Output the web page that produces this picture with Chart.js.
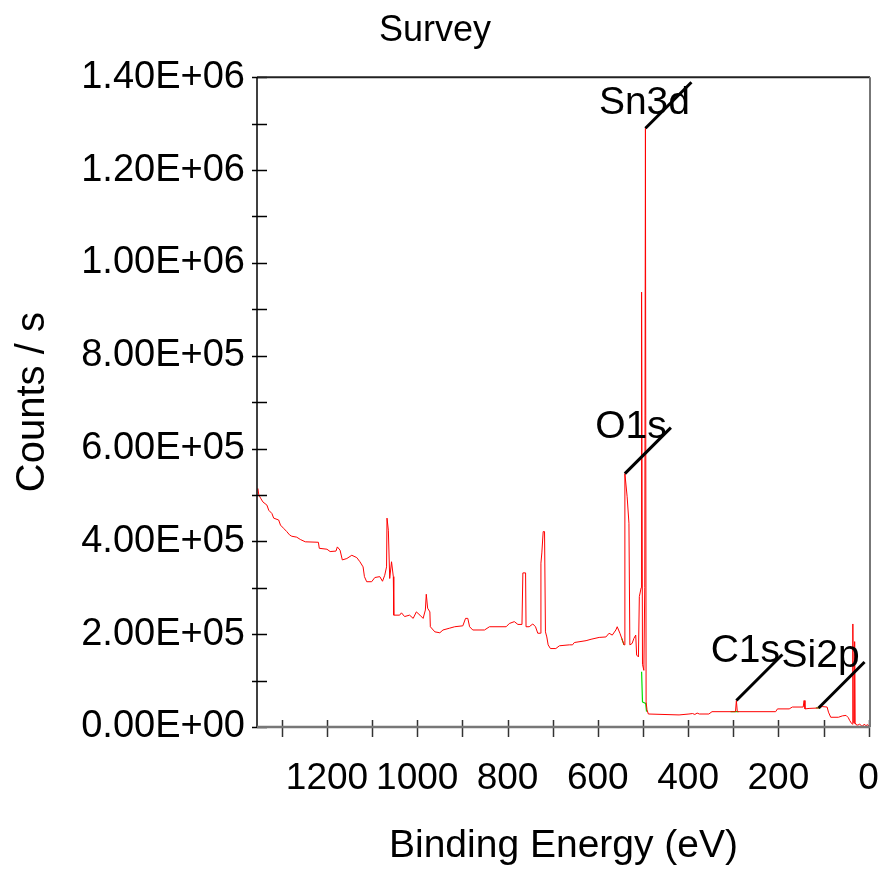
<!DOCTYPE html>
<html lang="en">
<head>
<meta charset="UTF-8">
<title>Survey</title>
<script src="https://cdn.jsdelivr.net/npm/chart.js"></script>
<style>
  html, body { margin: 0; padding: 0; background: #fff; }
</style>
</head>
<body>
<canvas id="myChart" width="881" height="870"></canvas>
<script>
// binding energy (eV) and counts/s
const energy = [1353, 1351, 1347, 1342, 1333, 1329, 1322, 1318, 1307, 1303, 1296, 1289, 1283, 1278, 1267, 1259, 1248,
  1219, 1217, 1200, 1193, 1180, 1177, 1171, 1166, 1156, 1145, 1134, 1127, 1120, 1117, 1112, 1101, 1094, 1083, 1077,
  1072, 1068, 1067, 1064, 1061, 1057, 1053, 1052, 1039, 1035, 1028, 1017, 1009, 1002, 994, 987, 982, 980, 977, 972,
  971, 961, 950, 943, 928, 917, 899, 893, 888, 884, 877, 851, 840, 803, 796, 785, 777, 768, 766, 760, 759, 752, 744,
  738, 733, 727, 726, 724, 721, 718, 716, 713, 710, 705, 693, 685, 663, 656, 652, 626, 615, 597, 582, 575, 568, 560,
  557, 551, 547, 542, 541, 540, 535, 531, 529, 524, 520, 516, 514, 510, 508, 504, 503, 501, 498, 496, 494.5, 493, 491,
  488, 420, 398, 390, 385, 380, 375, 354, 347, 295, 293, 291, 206, 202, 176, 169, 145, 143, 141, 132, 111, 103, 92,
  89, 84, 67, 58, 50, 45, 42, 38, 36, 35, 34, 32, 31, 30, 28, 24, 20, 16, 13, 10, 6, 2, 0];
const counts = [514000, 500000, 493000, 485000, 478000, 467000, 460000, 450000, 446000, 435000, 428000, 421000, 414000,
  411000, 409000, 404000, 399000, 398000, 385000, 383000, 378000, 379000, 388000, 381000, 360000, 363000, 370000,
  365000, 356000, 345000, 324000, 313000, 313000, 322000, 324000, 314000, 327000, 345000, 450000, 424000, 320000,
  356000, 324000, 241000, 241000, 246000, 238000, 241000, 234000, 248000, 241000, 234000, 252000, 286000, 256000,
  248000, 216000, 205000, 203000, 209000, 213000, 216000, 218000, 234000, 234000, 216000, 209000, 209000, 216000,
  216000, 223000, 227000, 221000, 221000, 332000, 332000, 216000, 216000, 222000, 216000, 202000, 202000, 353000,
  375000, 421000, 421000, 205000, 194000, 177000, 169000, 169000, 175000, 177000, 177000, 182000, 186000, 189000,
  193000, 194000, 202000, 198000, 209000, 216000, 202000, 191000, 177000, 177000, 546000, 496000, 439000, 177000,
  180000, 191000, 198000, 155000, 151000, 281000, 300000, 937000, 135000, 122000, 300000, 1290000, 54000, 37000,
  28000, 26000, 28000, 29000, 27000, 30000, 28000, 28000, 33000, 33000, 57000, 33000, 33000, 39000, 39000, 43000,
  43000, 57000, 39000, 40000, 41000, 44000, 43000, 32000, 21000, 21000, 24000, 25000, 20000, 14000, 8000, 6000,
  222000, 10000, 8000, 184000, 10000, 5000, 4000, 6000, 3000, 2000, 6000, 3000, 5000, 2000];

// green background pieces under the fitted peaks (null breaks the line)
const bgEnergy = [547, 542, null, 503, 501, 494, 492, null, 306, 288, null, 117, 107];
const bgCounts = [191000, 177000, null, 119000, 54000, 51000, 33000, null, 33000, 33000, null, 41000, 41000];

// peak labels
const peakNames = ['Sn3d', 'O1s', 'C1s', 'Si2p'];
const peakEnergy = [494.5, 540, 293, 111];
const peakCounts = [1290000, 546000, 57000, 41000];

// labelled ticks
const xLabels = [1200, 1000, 800, 600, 400, 200, 0];
const yLabels = [0, 200000, 400000, 600000, 800000, 1000000, 1200000, 1400000];

const FONT = 'Arial, "Liberation Sans", sans-serif';

function sci(v) {
  if (v === 0) return '0.00E+00';
  const e = Math.floor(Math.log10(v) + 1e-9);
  const m = v / Math.pow(10, e);
  return m.toFixed(2) + 'E+' + String(e).padStart(2, '0');
}

function toPoints(xs, ys) {
  return xs.map((x, i) => (x === null ? { x: NaN, y: null } : { x: x, y: ys[i] }));
}

// frame and crossing tick marks
const framePlugin = {
  id: 'frame',
  afterDraw(chart) {
    const { ctx, chartArea: a, scales } = chart;
    ctx.save();
    ctx.lineCap = 'butt';
    // ticks
    ctx.strokeStyle = '#333';
    ctx.lineWidth = 1.5;
    for (let v = 0; v <= 1300; v += 100) {
      const x = Math.round(scales.x.getPixelForValue(v)) + 0.5;
      ctx.beginPath(); ctx.moveTo(x, a.bottom - 7); ctx.lineTo(x, a.bottom + 10); ctx.stroke();
    }
    ctx.strokeStyle = '#000';
    for (let v = 0; v <= 1400000; v += 100000) {
      const y = Math.round(scales.y.getPixelForValue(v)) + 0.5;
      ctx.beginPath(); ctx.moveTo(a.left - 5, y); ctx.lineTo(a.left + 10, y); ctx.stroke();
    }
    // borders
    ctx.lineWidth = 2;
    ctx.strokeStyle = '#222';
    ctx.beginPath(); ctx.moveTo(a.left, a.top); ctx.lineTo(a.right, a.top); ctx.stroke();
    ctx.strokeStyle = '#000';
    ctx.lineWidth = 1.5;
    ctx.beginPath(); ctx.moveTo(a.left, a.top); ctx.lineTo(a.left, a.bottom); ctx.stroke();
    ctx.strokeStyle = '#777';
    ctx.lineWidth = 2.5;
    ctx.beginPath(); ctx.moveTo(a.left, a.bottom); ctx.lineTo(a.right, a.bottom); ctx.stroke();
    ctx.lineWidth = 2;
    ctx.beginPath(); ctx.moveTo(a.right, a.top); ctx.lineTo(a.right, a.bottom); ctx.stroke();
    ctx.restore();
  }
};

// peak names with leader lines
const labelOffsets = { Sn3d: [-1, -14], O1s: [6, -36], C1s: [9, -39], Si2p: [2, -41] };
const peakPlugin = {
  id: 'peaks',
  afterDatasetsDraw(chart) {
    const { ctx, scales } = chart;
    ctx.save();
    ctx.strokeStyle = '#000';
    ctx.lineWidth = 3;
    ctx.fillStyle = '#000';
    ctx.font = '39px ' + FONT;
    ctx.textAlign = 'center';
    ctx.textBaseline = 'alphabetic';
    peakNames.forEach((name, i) => {
      const px = scales.x.getPixelForValue(peakEnergy[i]);
      const py = scales.y.getPixelForValue(peakCounts[i]);
      const off = labelOffsets[name];
      ctx.fillText(name, px + off[0], py + off[1]);
      ctx.beginPath(); ctx.moveTo(px, py); ctx.lineTo(px + 46, py - 46); ctx.stroke();
    });
    ctx.restore();
  }
};

function noPad(s) {
  s.paddingLeft = 0; s.paddingRight = 0; s.paddingTop = 0; s.paddingBottom = 0;
}

const ctx = document.getElementById('myChart').getContext('2d');
const myChart = new Chart(ctx, {
  type: 'line',
  data: {
    datasets: [
      {
        label: 'Survey',
        data: toPoints(energy, counts),
        borderColor: '#ff0000',
        borderWidth: 1,
        pointRadius: 0,
        tension: 0,
        fill: false
      },
      {
        label: 'Background',
        data: toPoints(bgEnergy, bgCounts),
        borderColor: '#00e000',
        borderWidth: 1.2,
        pointRadius: 0,
        tension: 0,
        spanGaps: false,
        fill: false
      }
    ]
  },
  options: {
    responsive: false,
    animation: false,
    devicePixelRatio: 1,
    layout: { padding: { left: 0, right: 11, top: 0, bottom: 0 } },
    plugins: {
      legend: { display: false },
      tooltip: { enabled: false },
      title: {
        display: true,
        text: 'Survey',
        color: '#000',
        font: { family: FONT, size: 36, weight: 'normal' },
        padding: { top: 9, bottom: 25 }
      }
    },
    scales: {
      x: {
        type: 'linear',
        reverse: true,
        min: -3,
        max: 1355,
        grid: { display: false, drawTicks: false },
        border: { display: false },
        ticks: {
          stepSize: 100,
          includeBounds: false,
          autoSkip: false,
          maxRotation: 0,
          color: '#000',
          padding: 30,
          font: { family: FONT, size: 37 },
          callback: v => (xLabels.includes(Math.round(v)) ? String(Math.round(v)) : '')
        },
        title: {
          display: true,
          text: 'Binding Energy (eV)',
          color: '#000',
          font: { family: FONT, size: 39 },
          padding: { top: 0, bottom: 0 }
        },
        afterFit: s => { s.height = 143; noPad(s); }
      },
      y: {
        min: 0,
        max: 1400000,
        grid: { display: false, drawTicks: false },
        border: { display: false },
        ticks: {
          stepSize: 100000,
          includeBounds: false,
          autoSkip: false,
          color: '#000',
          padding: 12,
          font: { family: FONT, size: 38 },
          callback: v => (yLabels.includes(Math.round(v)) ? sci(Math.round(v)) : '')
        },
        title: {
          display: true,
          text: 'Counts / s',
          color: '#000',
          font: { family: FONT, size: 40 },
          padding: { top: 9, bottom: 0 }
        },
        afterFit: s => { s.width = 257; noPad(s); }
      }
    }
  },
  plugins: [framePlugin, peakPlugin]
});
</script>
</body>
</html>
